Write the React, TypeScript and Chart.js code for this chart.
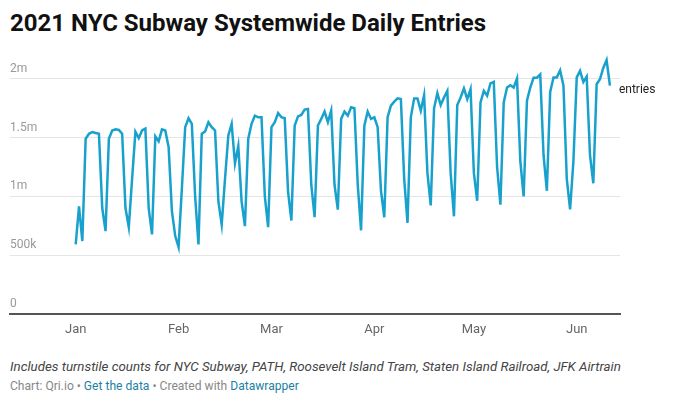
import { useEffect, useRef } from "react"
import { Chart, registerables } from "chart.js"

Chart.register(...registerables)

// daily turnstile entries, in millions (Jan 1 – Jun 11, 2021)
const jan = [0.594, 0.916, 0.622, 1.49, 1.532, 1.546, 1.538, 1.532, 0.902, 0.706, 1.49, 1.56, 1.569, 1.565, 1.532, 0.902, 0.74, 1.15, 1.55, 1.496, 1.56, 1.576, 0.902, 0.678, 1.51, 1.468, 1.569, 1.56, 1.42, 0.874, 0.664]
const feb = [0.571, 1.07, 1.588, 1.664, 1.616, 1.0, 0.594, 1.532, 1.552, 1.63, 1.588, 1.56, 0.958, 0.762, 1.15, 1.518, 1.616, 1.28, 1.429, 0.958, 0.748, 1.49, 1.616, 1.686, 1.672, 1.672, 1.0, 0.74]
const mar = [1.588, 1.63, 1.708, 1.672, 1.664, 1.042, 0.796, 1.602, 1.68, 1.692, 1.737, 1.742, 1.1, 0.824, 1.602, 1.658, 1.72, 1.63, 1.728, 1.1, 0.888, 1.658, 1.72, 1.686, 1.756, 1.748, 1.1, 0.712, 1.602, 1.72, 1.658]
const apr = [1.672, 1.588, 1.05, 0.824, 1.672, 1.77, 1.804, 1.832, 1.826, 1.15, 0.776, 1.672, 1.832, 1.832, 1.728, 1.86, 1.2, 0.924, 1.748, 1.876, 1.776, 1.84, 1.896, 1.2, 0.832, 1.776, 1.84, 1.916, 1.826, 1.91]
const may = [1.2, 0.964, 1.798, 1.896, 1.854, 1.96, 1.972, 1.25, 0.93, 1.798, 1.924, 1.944, 1.924, 2.0, 1.3, 1.0, 1.812, 1.924, 2.008, 2.008, 2.036, 1.35, 1.048, 1.887, 2.01, 2.01, 2.07, 1.94, 1.15, 0.89, 1.3]
const jun = [2.01, 2.065, 1.972, 2.017, 1.35, 1.112, 1.952, 1.994, 2.09, 2.157, 1.94]

const entries = [...jan, ...feb, ...mar, ...apr, ...may, ...jun]

// x axis: day index from Jan 1
const monthStarts = [0, 31, 59, 90, 120, 151]
const monthLabels = ["Jan", "Feb", "Mar", "Apr", "May", "Jun"]

// y axis
const yTickValues = [0, 0.5, 1, 1.5, 2]
const yTickLabels = ["0", "500k", "1m", "1.5m", "2m"]

const LINE = "#18a1cd"
const FONT = "Roboto, 'Noto Sans', sans-serif"

export default function App() {
  const chartRef = useRef<HTMLCanvasElement>(null)
  const chartInstance = useRef<Chart | null>(null)

  useEffect(() => {
    if (!chartRef.current) return
    if (chartInstance.current) chartInstance.current.destroy()

    const ctx = chartRef.current.getContext("2d")
    if (!ctx) return

    // writes the series name next to its last point
    const endLabel = {
      id: "endLabel",
      afterDatasetsDraw(chart: any) {
        const meta = chart.getDatasetMeta(0)
        const last = meta.data[meta.data.length - 1]
        if (!last) return
        const c = chart.ctx
        c.save()
        c.font = `12px ${FONT}`
        c.fillStyle = "#222"
        c.textAlign = "left"
        c.textBaseline = "middle"
        c.fillText(chart.data.datasets[0].label, last.x + 9, last.y + 4)
        c.restore()
      },
    }

    chartInstance.current = new Chart(ctx, {
      type: "line",
      data: {
        datasets: [
          {
            label: "entries",
            data: entries.map((v, i) => ({ x: i, y: v })),
            borderColor: LINE,
            backgroundColor: LINE,
            borderWidth: 2.5,
            pointRadius: 0,
            tension: 0,
          },
        ],
      },
      options: {
        responsive: false,
        animation: false,
        layout: { padding: { left: 2, right: 52, top: 8, bottom: 2 } },
        plugins: {
          legend: { display: false },
          tooltip: { enabled: false },
        },
        scales: {
          x: {
            type: "linear",
            min: -19.8,
            max: 164.04,
            afterBuildTicks: (scale: any) => {
              scale.ticks = monthStarts.map((v) => ({ value: v }))
            },
            grid: { display: false, drawTicks: false },
            border: { display: true, color: "#555", width: 2 },
            ticks: {
              autoSkip: false,
              maxRotation: 0,
              padding: 8,
              color: "#666",
              font: { family: FONT, size: 13 },
              callback: (value: any) => monthLabels[monthStarts.indexOf(Number(value))] ?? "",
            },
          },
          y: {
            min: 0,
            max: 2.2,
            afterBuildTicks: (scale: any) => {
              scale.ticks = yTickValues.map((v) => ({ value: v }))
            },
            grid: { color: "#e5e5e5", lineWidth: 1, drawTicks: false },
            border: { display: false },
            ticks: {
              mirror: true,
              padding: 0,
              labelOffset: -10,
              color: "#999",
              font: { family: FONT, size: 12 },
              callback: (value: any) => yTickLabels[yTickValues.indexOf(Number(value))] ?? "",
            },
          },
        },
      },
      plugins: [endLabel],
    })

    return () => {
      if (chartInstance.current) {
        chartInstance.current.destroy()
        chartInstance.current = null
      }
    }
  }, [])

  return (
    <div style={{ position: "relative", width: 664, height: 387, fontFamily: FONT }}>
      <div
        style={{
          position: "absolute",
          left: 2,
          top: 3,
          fontSize: 24,
          lineHeight: "24px",
          fontWeight: 700,
          color: "#111",
          whiteSpace: "nowrap",
        }}
      >
        2021 NYC Subway Systemwide Daily Entries
      </div>
      <canvas
        ref={chartRef}
        width={664}
        height={301}
        style={{ position: "absolute", left: 0, top: 39, width: 664, height: 301 }}
      ></canvas>
      <div
        style={{
          position: "absolute",
          left: 2,
          top: 351,
          fontSize: 13.3,
          lineHeight: "16px",
          fontStyle: "italic",
          color: "#444",
          whiteSpace: "nowrap",
        }}
      >
        Includes turnstile counts for NYC Subway, PATH, Roosevelt Island Tram, Staten Island Railroad, JFK Airtrain
      </div>
      <div
        style={{
          position: "absolute",
          left: 2,
          top: 371,
          fontSize: 12.1,
          lineHeight: "15px",
          color: "#888",
          whiteSpace: "nowrap",
        }}
      >
        Chart: Qri.io • <span style={{ color: "#1d81a2" }}>Get the data</span> • Created with{" "}
        <span style={{ color: "#1d81a2" }}>Datawrapper</span>
      </div>
    </div>
  )
}
